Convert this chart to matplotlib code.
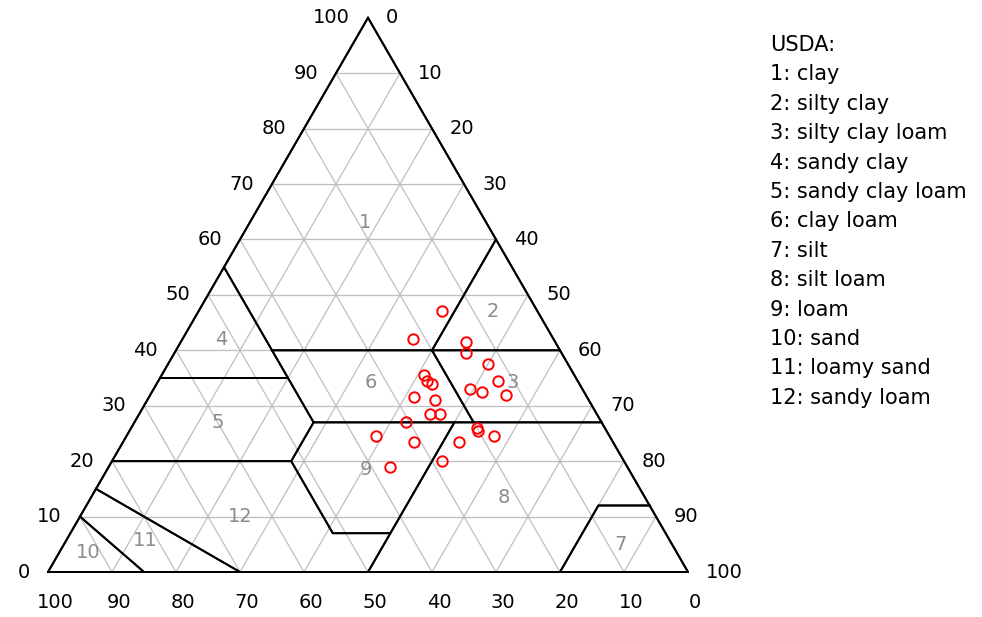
import numpy as np
import matplotlib
matplotlib.use("Agg")
import matplotlib.pyplot as plt

# Soil samples (percent)
clay = [47, 42, 41.5, 39.5, 37.5, 35.5, 34.5, 34, 34.5, 33, 32.5, 32, 31.5,
        31, 28.5, 28.5, 27, 26, 25.5, 24.5, 24.5, 23.5, 23.5, 20, 19]
silt = [38, 36, 44.5, 45.5, 50, 41, 42, 43, 53, 49.5, 51.5, 55.5, 41.5,
        45, 45.5, 47, 42.5, 54, 54.5, 57.5, 39, 45.5, 52.5, 51.5, 44]
sand = [100 - c - s for c, s in zip(clay, silt)]

# USDA texture classes as (sand, silt, clay) polygons
class_names = ["clay", "silty clay", "silty clay loam", "sandy clay",
               "sandy clay loam", "clay loam", "silt", "silt loam", "loam",
               "sand", "loamy sand", "sandy loam"]
class_polygons = [
    [(0, 0, 100), (45, 0, 55), (45, 15, 40), (20, 40, 40), (0, 40, 60)],
    [(0, 40, 60), (20, 40, 40), (0, 60, 40)],
    [(0, 60, 40), (20, 40, 40), (20, 53, 27), (0, 73, 27)],
    [(45, 0, 55), (65, 0, 35), (45, 20, 35)],
    [(65, 0, 35), (80, 0, 20), (52, 28, 20), (45, 28, 27), (45, 20, 35)],
    [(45, 15, 40), (20, 40, 40), (20, 53, 27), (45, 28, 27)],
    [(0, 88, 12), (8, 80, 12), (20, 80, 0), (0, 100, 0)],
    [(0, 73, 27), (23, 50, 27), (50, 50, 0), (20, 80, 0), (8, 80, 12), (0, 88, 12)],
    [(45, 28, 27), (52, 28, 20), (52, 41, 7), (43, 50, 7), (23, 50, 27)],
    [(90, 0, 10), (100, 0, 0), (85, 15, 0)],
    [(85, 0, 15), (90, 0, 10), (85, 15, 0), (70, 30, 0)],
    [(80, 0, 20), (85, 0, 15), (70, 30, 0), (50, 50, 0), (43, 50, 7), (52, 41, 7), (52, 28, 20)],
]
# Class number label positions (sand, silt, clay)
class_label_pos = [
    (19, 18, 63), (7, 46, 47), (10.3, 55.6, 34.1), (52, 6, 42), (60, 13, 27),
    (32.5, 33.4, 34.1), (8, 87, 5), (22, 64.5, 13.5), (41, 40.5, 18.5),
    (92, 4.5, 3.5), (82, 12.4, 5.6), (65, 25, 10),
]
ticks = list(range(0, 101, 10))

H = np.sqrt(3) / 2


def tern(sa, si, cl):
    sa, si, cl = np.asarray(sa, float), np.asarray(si, float), np.asarray(cl, float)
    tot = sa + si + cl
    return (si + cl / 2) / tot, cl / tot * H


fig = plt.figure(figsize=(9.82, 6.17), dpi=100)
ax = fig.add_axes([0, 0, 1, 1])
ax.set_xlim(-48 / 640, (982 - 48) / 640)
ax.set_ylim(-45 / 640, (617 - 45) / 640)
ax.set_aspect("equal")
ax.axis("off")

grid_kw = dict(color="#bebebe", lw=0.9, zorder=1)
for k in ticks[1:-1]:
    x, y = tern([100 - k, 0], [0, 100 - k], [k, k])
    ax.plot(x, y, **grid_kw)
    x, y = tern([100 - k, 0], [k, k], [0, 100 - k])
    ax.plot(x, y, **grid_kw)
    x, y = tern([k, k], [100 - k, 0], [0, 100 - k])
    ax.plot(x, y, **grid_kw)

for poly in class_polygons:
    p = np.array(poly + [poly[0]], float)
    x, y = tern(p[:, 0], p[:, 1], p[:, 2])
    ax.plot(x, y, color="black", lw=1.4, zorder=2)

x, y = tern([100, 0, 0, 100], [0, 100, 0, 0], [0, 0, 100, 0])
ax.plot(x, y, color="black", lw=1.4, zorder=2)

for i, (sa, si, cl) in enumerate(class_label_pos):
    x, y = tern(sa, si, cl)
    ax.text(x, y, str(i + 1), color="#8c8c8c", fontsize=14,
            ha="center", va="center", zorder=3)

x, y = tern(sand, silt, clay)
ax.plot(x, y, "o", ms=7.5, mfc="none", mec="red", mew=1.4, zorder=4)

tick_font = dict(fontsize=14, color="black")
for k in ticks:
    # clay on the left side
    x, y = tern(100 - k, 0, k)
    ax.annotate(str(k), (x, y), xytext=(-13, 0), textcoords="offset points",
                ha="right", va="center", **tick_font)
    # silt on the right side
    x, y = tern(0, k, 100 - k)
    ax.annotate(str(k), (x, y), xytext=(13, 0), textcoords="offset points",
                ha="left", va="center", **tick_font)
    # sand along the bottom
    x, y = tern(k, 100 - k, 0)
    ax.annotate(str(k), (x, y), xytext=(5, -22), textcoords="offset points",
                ha="center", va="center", **tick_font)

legend_lines = ["USDA:"] + [f"{i + 1}: {n}" for i, n in enumerate(class_names)]
for i, line in enumerate(legend_lines):
    fig.text(770 / 982, 1 - (45 + i * 29.4) / 617, line, fontsize=15,
             ha="left", va="center", color="black")

fig.savefig("out.png", dpi=100)
